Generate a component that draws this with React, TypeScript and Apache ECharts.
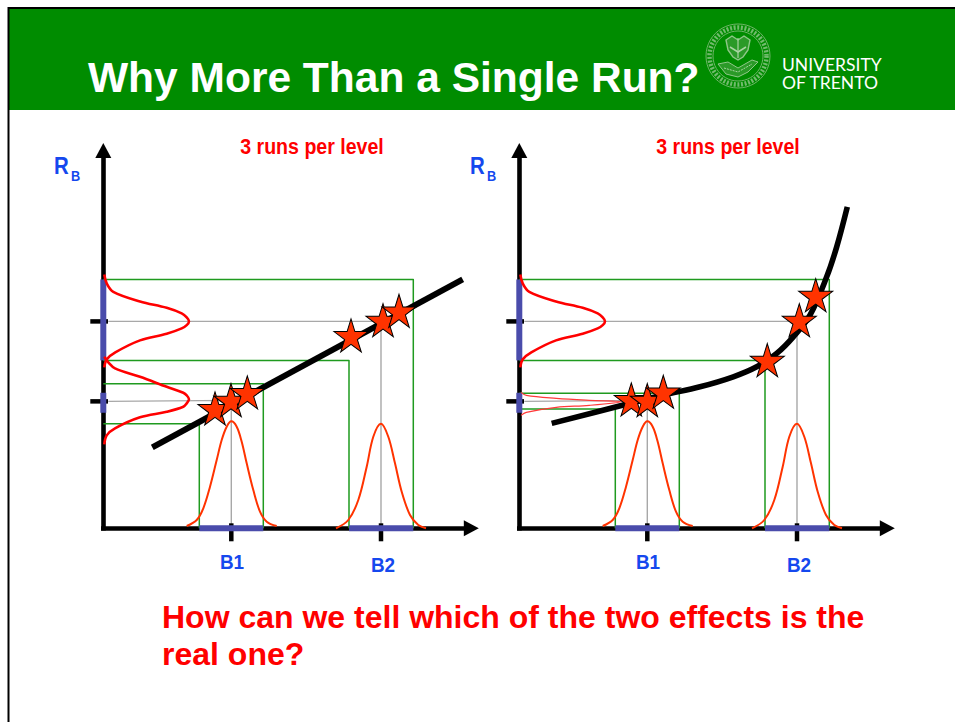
import React, { useEffect, useRef } from "react";
import * as echarts from "echarts";

type P = [number, number];

const titleText = "Why More Than a Single Run?";
const runsLabel = "3 runs per level";
const questionLines = ["How can we tell which of the two effects is the", "real one?"];
const levelLabels = ["B1", "B2"];

// values: distance from each panel's origin along B (x) and along R_B (y)
const topBell: P[] = [[1, 254], [3.4, 245], [10, 236.6], [36.7, 227], [63.4, 220.6], [78.4, 215], [83.4, 211], [85.7, 207], [83.4, 203.3], [78.4, 200], [63.4, 194.6], [36.7, 188], [12, 176], [3.4, 169], [1, 161]];
const lowBellLeft: P[] = [[1, 171.6], [5, 166], [11.7, 160], [36.7, 151.6], [63.4, 141.6], [80, 135.6], [83.4, 133], [85.7, 129], [83.4, 125], [80, 121.6], [63.4, 116.6], [36.7, 111], [11.7, 100], [3.4, 93], [1, 84]];
const lowBellRight: P[] = [[1.7, 136], [7, 133], [37, 130], [70, 128], [102, 126.6], [70, 123], [37, 121], [7, 116], [1.7, 113]];
const bellB1: P[] = [[83.4, 2.3], [93.4, 8.3], [100, 20], [106.7, 41.6], [113.4, 68.3], [118.4, 88.3], [123.4, 101.6], [128, 107], [133.4, 101.6], [138.4, 86.6], [143.4, 65], [150, 38.3], [156.7, 16.6], [163.4, 6.6], [173.4, 2.3]];
const bellB2: P[] = [[232.7, 0], [245, 8.3], [255, 28.3], [263.4, 61.6], [270, 91.6], [277.7, 104.6], [285, 91.6], [291.7, 65], [298.4, 36.6], [306.7, 13.3], [315, 3.3], [322.7, 0]];
const lineLeft: P[] = [[49, 81], [359.4, 249]];
const curveRight: P[] = [[32.4, 105], [104, 123.3], [144, 133.3], [180.7, 141.6], [214, 151.6], [237.4, 161.6], [257.4, 175], [274, 191.6], [290.7, 213.3], [307.4, 251.6], [317.4, 281.6], [328, 321.6]];
const starsLeft: P[] = [[111.7, 120], [127.7, 128.3], [144, 136], [247.7, 193], [279.7, 208.3], [295.7, 217.6]];
const starsRight: P[] = [[112, 129], [128, 128.3], [144, 136.6], [248, 168.3], [280, 208.3], [296.4, 233.3]];
const greenLeft: P[][] = [[[0, 249], [310, 249], [310, 0]], [[0, 168], [245.7, 168], [245.7, 0]], [[0, 144.7], [160, 144.7], [160, 0]], [[0, 104.7], [96, 104.7], [96, 0]]];
const greenRight: P[][] = [[[0, 249], [310, 249], [310, 0]], [[0, 168], [245.7, 168], [245.7, 0]], [[0, 135], [160, 135], [160, 0]], [[0, 119.3], [96, 119.3], [96, 0]]];
const greyGuides: P[][] = [[[5, 207], [277.7, 207], [277.7, 0]], [[5, 127], [128, 128], [128, 0]]];
const blueBandsY: P[][] = [[[0, 249], [0, 168]], [[0, 135.6], [0, 115.6]]];
const blueBandsX: P[][] = [[[96, 0], [160, 0]], [[245.7, 0], [310, 0]]];
const ticksX: P[][] = [[[128, -13], [128, 5]], [[277.7, -13], [277.7, 5]]];
const ticksY: P[][] = [[[-13, 207], [4.7, 207]], [[-13, 127], [4.7, 127]]];

const STAR = "path://M50 0L61 35L98 35L68 57L79 91L50 70L21 91L32 57L2 35L39 35Z";

const poly = (idx: number, data: P[], color: string, width: number, z: number, smooth = false) => ({
  type: "line", xAxisIndex: idx, yAxisIndex: idx, data, showSymbol: false, symbol: "none", clip: false,
  smooth: smooth ? 0.35 : false, z, silent: true,
  lineStyle: { color, width, cap: "butt", join: "round" },
});

function panel(idx: number, line: P[], lineW: number, smoothLine: boolean, low: P[], lowW: number, lowC: string, stars: P[], green: P[][]) {
  return [
    ...green.map((g) => poly(idx, g, "#1f9a1f", 1.5, 3)),
    ...greyGuides.map((g) => poly(idx, g, "#a8a8a8", 1.4, 2)),
    poly(idx, line, "#000000", lineW, 4, smoothLine),
    ...ticksX.map((t) => poly(idx, t, "#000000", 4.5, 4)),
    ...ticksY.map((t) => poly(idx + 2, t, "#000000", 4.5, 4)),
    ...blueBandsY.map((b) => poly(idx, b, "#4a4cab", 6, 5)),
    ...blueBandsX.map((b) => poly(idx, b, "#4a4cab", 6, 5)),
    poly(idx, topBell, "#ff0000", 2.6, 7, true),
    poly(idx, low, lowC, lowW, 7, true),
    poly(idx, bellB1, "#ff3300", 2, 7, true),
    poly(idx, bellB2, "#ff3300", 2, 7, true),
    {
      type: "scatter", xAxisIndex: idx, yAxisIndex: idx, data: stars, symbol: STAR, symbolSize: [34, 33],
      clip: false, z: 8, silent: true,
      itemStyle: { color: "#ff3300", borderColor: "#000000", borderWidth: 1, opacity: 1 },
    },
  ];
}

const axisBase = {
  type: "value", splitLine: { show: false }, axisTick: { show: false }, axisLabel: { show: false },
};
const axLine = () => ({
  show: true, onZero: false, symbol: ["none", "triangle"], symbolSize: [16, 15], symbolOffset: [0, 0],
  lineStyle: { color: "#000000", width: 4.6, cap: "square" },
});
const hiddenAxis = { ...axisBase, show: false };

function sealMarks() {
  const cx = 738, cy = 56, z = 12;
  const pale = "#8fc788", soft = "#6fb568", bright = "#a9d4a2";
  const el = (o: any) => ({ ...o, z, silent: true });
  return [
    el({ type: "circle", shape: { cx, cy, r: 32 }, style: { fill: "none", stroke: soft, lineWidth: 1 } }),
    el({ type: "circle", shape: { cx, cy, r: 28.5 }, style: { fill: "none", stroke: pale, lineWidth: 4.5, lineDash: [2, 1.6], opacity: 0.8 } }),
    el({ type: "circle", shape: { cx, cy, r: 25 }, style: { fill: "none", stroke: soft, lineWidth: 1 } }),
    el({ type: "polygon", shape: { points: [[726, 40], [732, 36], [738, 40], [744, 36], [750, 40], [748, 50], [743, 57], [738, 60], [733, 57], [728, 50]] }, style: { fill: "#2b9a28", stroke: pale, lineWidth: 1.4 } }),
    el({ type: "polyline", shape: { points: [[730, 47], [738, 52], [746, 47]] }, style: { stroke: bright, lineWidth: 1.5, fill: "none" } }),
    el({ type: "polyline", shape: { points: [[738, 38], [738, 58]] }, style: { stroke: bright, lineWidth: 1.2, fill: "none" } }),
    el({ type: "polygon", shape: { points: [[718, 64], [728, 62], [738, 68], [752, 60], [758, 62], [748, 72], [738, 77], [726, 74]] }, style: { fill: "#2b9a28", stroke: pale, lineWidth: 1 } }),
    el({ type: "polyline", shape: { points: [[724, 68], [738, 72], [752, 64]] }, style: { stroke: bright, lineWidth: 1, fill: "none", lineDash: [2, 1] } }),
  ];
}

export default function App() {
  const ref = useRef<HTMLDivElement>(null);
  useEffect(() => {
    const chart = echarts.init(ref.current!, null, { renderer: "svg" });
    const red = "#ff0000";
    const blue = "#1548ee";
    const txt = (x: number, y: number, text: string, font: string, fill: string, align = "left", scaleX = 1) => ({
      type: "text", x, y, z: 20, silent: true, scaleX,
      style: { text, font, fill, align, verticalAlign: "middle" },
    });
    chart.setOption({
      animation: false,
      backgroundColor: "#ffffff",
      grid: [
        { left: 103.3, top: 150.5, width: 368, height: 377.8 },
        { left: 519.3, top: 150.5, width: 368, height: 377.8 },
        { left: 83.3, top: 150.5, width: 30, height: 377.8 },
        { left: 499.3, top: 150.5, width: 30, height: 377.8 },
      ],
      xAxis: [
        { ...axisBase, gridIndex: 0, min: 0, max: 368, axisLine: axLine() },
        { ...axisBase, gridIndex: 1, min: 0, max: 368, axisLine: axLine() },
        { ...hiddenAxis, gridIndex: 2, min: -20, max: 10 },
        { ...hiddenAxis, gridIndex: 3, min: -20, max: 10 },
      ],
      yAxis: [
        { ...axisBase, gridIndex: 0, min: 0, max: 378, axisLine: axLine() },
        { ...axisBase, gridIndex: 1, min: 0, max: 378, axisLine: axLine() },
        { ...hiddenAxis, gridIndex: 2, min: 0, max: 378 },
        { ...hiddenAxis, gridIndex: 3, min: 0, max: 378 },
      ],
      series: [
        ...panel(0, lineLeft, 6, false, lowBellLeft, 2.6, "#ff0000", starsLeft, greenLeft),
        ...panel(1, curveRight, 5.6, true, lowBellRight, 1.2, "#ff3a3a", starsRight, greenRight),
      ],
      graphic: [
        { type: "rect", shape: { x: 8, y: 8, width: 947, height: 102 }, style: { fill: "#008c00" }, z: 10, silent: true },
        { type: "line", shape: { x1: 8.5, y1: 7, x2: 8.5, y2: 722 }, style: { stroke: "#000000", lineWidth: 2 }, z: 11, silent: true },
        { type: "line", shape: { x1: 8, y1: 8, x2: 955, y2: 8 }, style: { stroke: "#000000", lineWidth: 2 }, z: 11, silent: true },
        ...sealMarks(),
        txt(88, 77, titleText, 'bold 42.5px "Liberation Sans"', "#ffffff"),
        {
          type: "text", x: 782, y: 73, z: 20, silent: true,
          style: { text: "UNIVERSITY\nOF TRENTO", font: '17.5px "Lato"', lineHeight: 18, fill: "#ffffff", align: "left", verticalAlign: "middle" },
        },
        txt(312, 146, runsLabel, 'bold 22px "Liberation Sans"', red, "center", 0.89),
        txt(728, 146, runsLabel, 'bold 22px "Liberation Sans"', red, "center", 0.89),
        txt(54, 166, "R", 'bold 24px "Liberation Sans"', blue, "left", 0.85),
        txt(71, 176, "B", 'bold 15px "Liberation Sans"', blue, "left", 0.85),
        txt(470, 166, "R", 'bold 24px "Liberation Sans"', blue, "left", 0.85),
        txt(487, 176, "B", 'bold 15px "Liberation Sans"', blue, "left", 0.85),
        txt(232, 562, levelLabels[0], 'bold 21px "Liberation Sans"', blue, "center", 0.9),
        txt(383, 565, levelLabels[1], 'bold 21px "Liberation Sans"', blue, "center", 0.9),
        txt(648, 562, levelLabels[0], 'bold 21px "Liberation Sans"', blue, "center", 0.9),
        txt(799, 565, levelLabels[1], 'bold 21px "Liberation Sans"', blue, "center", 0.9),
        txt(162, 617, questionLines[0], 'bold 32px "Liberation Sans"', red),
        txt(162, 654, questionLines[1], 'bold 32px "Liberation Sans"', red),
      ],
    });
    return () => chart.dispose();
  }, []);
  return <div ref={ref} style={{ position: "fixed", left: 0, top: 0, width: 955, height: 722 }} />;
}
